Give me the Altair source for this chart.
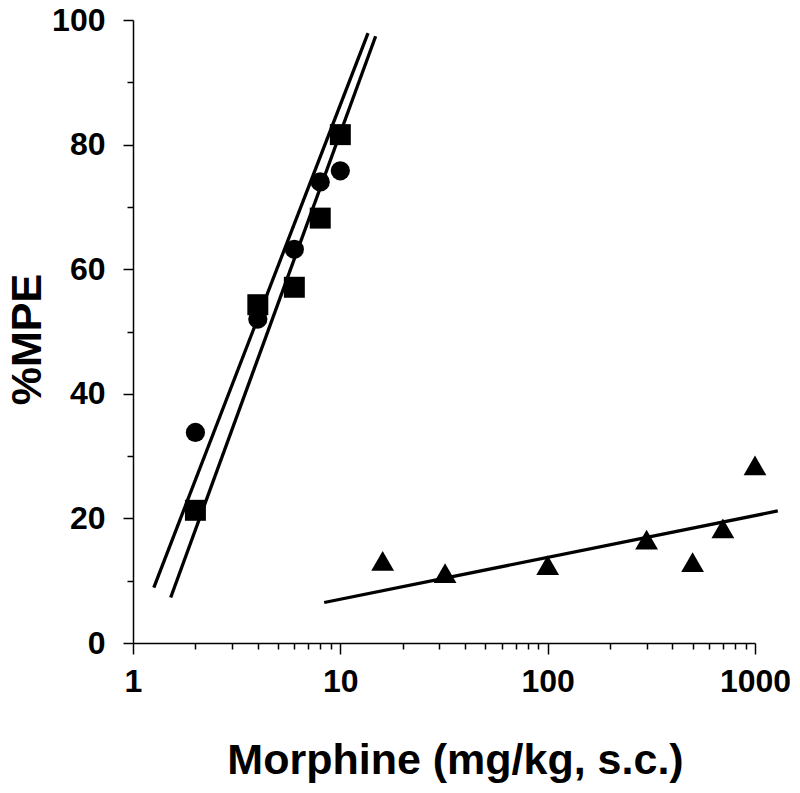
import altair as alt
import pandas as pd

# ---- data ----
dose_circle = [2, 4, 6, 8, 10]
mpe_circle = [33.8, 52.0, 63.2, 74.0, 75.8]

dose_square = [2, 4, 6, 8, 10]
mpe_square = [21.3, 54.3, 57.1, 68.2, 81.6]

dose_triangle = [16, 32, 100, 300, 500, 700, 1000]
mpe_triangle = [13.2, 11.2, 12.5, 16.6, 13.0, 18.4, 28.5]

# regression lines (end points)
fit_circle_dose = [1.26, 13.6]
fit_circle_mpe = [8.9, 97.9]
fit_square_dose = [1.52, 14.8]
fit_square_mpe = [7.3, 97.4]
fit_triangle_dose = [8.36, 1288]
fit_triangle_mpe = [6.5, 21.2]

x_major = [1, 10, 100, 1000]
x_minor = [2, 3, 4, 5, 6, 7, 8, 9, 20, 30, 40, 50, 60, 70, 80, 90,
           200, 300, 400, 500, 600, 700, 800, 900]
y_major = [0, 20, 40, 60, 80, 100]
y_minor = [10, 30, 50, 70, 90]

FONT = "Liberation Sans"

def df(d, m, g):
    return pd.DataFrame({"dose": d, "mpe": m, "g": [g] * len(d)})

circ = df(dose_circle, mpe_circle, "c")
sq = df(dose_square, mpe_square, "s")
tri = df(dose_triangle, mpe_triangle, "t")
fits = pd.concat([
    df(fit_circle_dose, fit_circle_mpe, "fc"),
    df(fit_square_dose, fit_square_mpe, "fs"),
    df(fit_triangle_dose, fit_triangle_mpe, "ft"),
])

xscale = alt.Scale(type="log", domain=[1, 1000], nice=False)
yscale = alt.Scale(domain=[0, 100], nice=False, zero=False)

x_axis_main = alt.Axis(
    values=x_major, orient="bottom", format="d", tickSize=11, tickWidth=1.5,
    tickColor="black", domainColor="black", domainWidth=1.5,
    labelFont=FONT, labelFontSize=32, labelFontWeight="bold", labelColor="black",
    labelPadding=12, labelFlush=False, labelOverlap=False, grid=False,
    title="Morphine (mg/kg, s.c.)", titleFont=FONT, titleFontSize=43,
    titleFontWeight="bold", titleColor="black", titleX=322, titleY=130,
    titleBaseline="alphabetic", titleAlign="center",
)
y_axis_main = alt.Axis(
    values=y_major, orient="left", tickSize=10, tickWidth=1.5,
    tickColor="black", domainColor="black", domainWidth=1.5,
    labelFont=FONT, labelFontSize=32, labelFontWeight="bold", labelColor="black",
    labelPadding=18, labelFlush=False, labelOverlap=False, grid=False,
    title="%MPE", titleFont=FONT, titleFontSize=43, titleFontWeight="bold",
    titleColor="black", titleAngle=270, titleX=-93, titleY=319,
    titleBaseline="alphabetic", titleAlign="center",
)
x_axis_minor = alt.Axis(
    values=x_minor, orient="bottom", tickSize=6, tickWidth=1.5, tickColor="black",
    domain=False, labels=False, title=None, grid=False,
)
y_axis_minor = alt.Axis(
    values=y_minor, orient="left", tickSize=6, tickWidth=1.5, tickColor="black",
    domain=False, labels=False, title=None, grid=False,
)

circles = alt.Chart(circ).mark_point(
    shape="circle", filled=True, color="black", opacity=1, size=370
).encode(
    x=alt.X("dose:Q", scale=xscale, axis=x_axis_main),
    y=alt.Y("mpe:Q", scale=yscale, axis=y_axis_main),
)

squares = alt.Chart(sq).mark_point(
    shape="square", filled=True, color="black", opacity=1, size=440
).encode(
    x=alt.X("dose:Q", scale=xscale, axis=None),
    y=alt.Y("mpe:Q", scale=yscale, axis=None),
)

triangles = alt.Chart(tri).mark_point(
    shape="triangle-up", filled=True, color="black", opacity=1, size=520
).encode(
    x=alt.X("dose:Q", scale=xscale, axis=None),
    y=alt.Y("mpe:Q", scale=yscale, axis=None),
)

lines = alt.Chart(fits).mark_line(color="black", strokeWidth=3.3, clip=False).encode(
    x=alt.X("dose:Q", scale=xscale, axis=x_axis_minor),
    y=alt.Y("mpe:Q", scale=yscale, axis=y_axis_minor),
    detail="g:N",
)

chart = alt.layer(lines, circles, squares, triangles).resolve_axis(
    x="independent", y="independent"
).properties(
    width=622, height=623,
    autosize=alt.AutoSizeParams(type="none"),
    padding={"left": 125, "top": 12, "right": 35, "bottom": 140},
    background="white",
).configure_view(stroke=None)

chart.save("out.html", embed_options={"renderer": "svg", "actions": False})
